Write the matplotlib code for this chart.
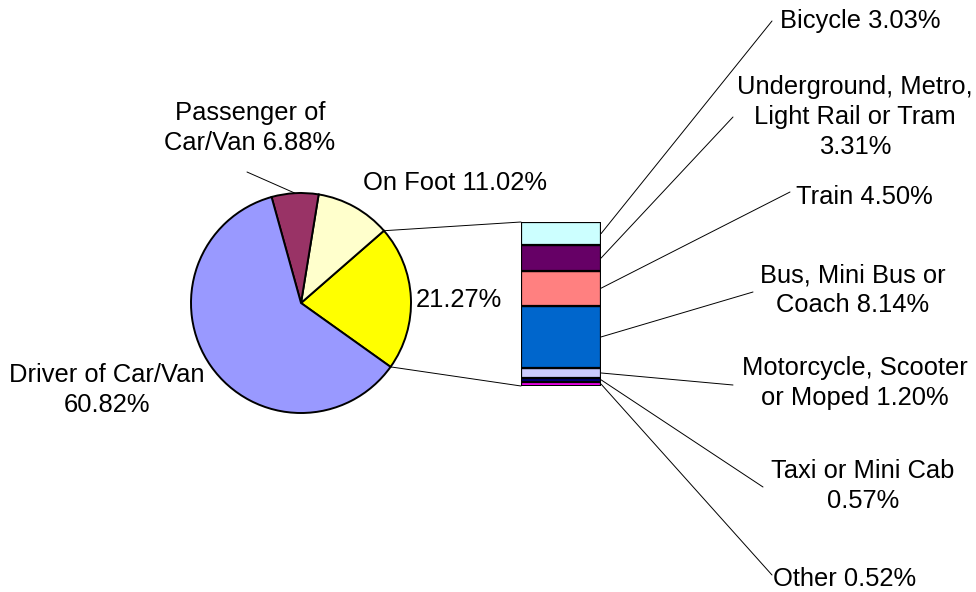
import numpy as np
import matplotlib.pyplot as plt
from matplotlib.patches import ConnectionPatch

plt.rcParams["font.family"] = ["Liberation Sans", "DejaVu Sans"]

# ── Data ─────────────────────────────────────────────────────────────────────
pie_names = ["Other modes", "On Foot", "Passenger of\nCar/Van", "Driver of Car/Van"]
pie_values = [21.27, 11.02, 6.88, 60.82]
pie_colors = ["#FFFF00", "#FFFFCC", "#993366", "#9999FF"]

# stacked bar, top → bottom
bar_names = ["Bicycle", "Underground, Metro,\nLight Rail or Tram", "Train",
             "Bus, Mini Bus or\nCoach", "Motorcycle, Scooter\nor Moped",
             "Taxi or Mini Cab", "Other"]
bar_seps = [" ", "\n", " ", " ", " ", "\n", " "]
bar_values = [3.03, 3.31, 4.50, 8.14, 1.20, 0.57, 0.52]
bar_colors = ["#CCFFFF", "#660066", "#FF8080", "#0066CC", "#CCCCFF",
              "#000080", "#FF00FF"]

W, H = 976, 592
FS = 18.4

fig = plt.figure(figsize=(W / 100, H / 100), dpi=100)

# overlay axes in image pixel coords (y down) for text / leader lines
ax_txt = fig.add_axes([0, 0, 1, 1])
ax_txt.set_xlim(0, W)
ax_txt.set_ylim(H, 0)
ax_txt.axis("off")

# ── Pie ──────────────────────────────────────────────────────────────────────
cx, cy, r = 301, 303, 110
ax_pie = fig.add_axes([(cx - r) / W, (H - cy - r) / H, 2 * r / W, 2 * r / H])
wedges, _ = ax_pie.pie(pie_values, colors=pie_colors, startangle=-35.5,
                       counterclock=True,
                       wedgeprops=dict(edgecolor="black", linewidth=1.4))
ax_pie.set_xlim(-1, 1)
ax_pie.set_ylim(-1, 1)
ax_pie.set_aspect("equal")
ax_pie.axis("off")

def edge_pt(theta):
    t = np.deg2rad(theta)
    return (np.cos(t), np.sin(t))

pie_label_pos = [(459, 300), (455, 183), (250, 128), (107, 390)]
for name, val, (tx, ty) in zip(pie_names, pie_values, pie_label_pos):
    txt = f"{val:.2f}%" if name == "Other modes" else f"{name} {val:.2f}%"
    if name == "Driver of Car/Van":
        txt = f"{name}\n{val:.2f}%"
    ax_txt.text(tx, ty, txt, fontsize=FS, ha="center", va="center",
                multialignment="center", linespacing=1.3)

# passenger leader line
pw = wedges[2]
mid = (pw.theta1 + pw.theta2) / 2
fig.add_artist(ConnectionPatch(xyA=edge_pt(mid), coordsA=ax_pie.transData,
                               xyB=(247, 172), coordsB=ax_txt.transData,
                               color="black", lw=0.7))

# ── Stacked bar ──────────────────────────────────────────────────────────────
bl, br, bt, bb = 521, 601, 222, 386
ax_bar = fig.add_axes([bl / W, (H - bb) / H, (br - bl) / W, (bb - bt) / H])
total = sum(bar_values)
vals_up = bar_values[::-1]
cols_up = bar_colors[::-1]
bottoms = np.concatenate([[0], np.cumsum(vals_up)[:-1]])
ax_bar.bar(0, vals_up, bottom=bottoms, width=1, color=cols_up,
           edgecolor="black", linewidth=1.6)
ax_bar.set_xlim(-0.5, 0.5)
ax_bar.set_ylim(0, total)
ax_bar.axis("off")

# pie → bar connectors
yw = wedges[0]
fig.add_artist(ConnectionPatch(xyA=edge_pt(yw.theta2), coordsA=ax_pie.transData,
                               xyB=(-0.5, total), coordsB=ax_bar.transData,
                               color="black", lw=0.7))
fig.add_artist(ConnectionPatch(xyA=edge_pt(yw.theta1), coordsA=ax_pie.transData,
                               xyB=(-0.5, 0), coordsB=ax_bar.transData,
                               color="black", lw=0.7))

# bar labels
line_end = [(772, 21), (733, 117), (790, 192), (753, 292), (733, 385),
            (763, 487), (772, 575)]
label_pos = [(860, 21), (855, 117), (864, 197), (853, 290), (855, 383),
             (863, 486), (845, 579)]
mids = [b + v / 2 for b, v in zip(bottoms, vals_up)][::-1]
for name, sep, val, m, le, lp in zip(bar_names, bar_seps, bar_values, mids,
                                     line_end, label_pos):
    fig.add_artist(ConnectionPatch(xyA=(0.5, m), coordsA=ax_bar.transData,
                                   xyB=le, coordsB=ax_txt.transData,
                                   color="black", lw=0.7))
    ax_txt.text(lp[0], lp[1], f"{name}{sep}{val:.2f}%", fontsize=FS,
                ha="center", va="center", multialignment="center",
                linespacing=1.3)

fig.savefig("out.png", dpi=100)
